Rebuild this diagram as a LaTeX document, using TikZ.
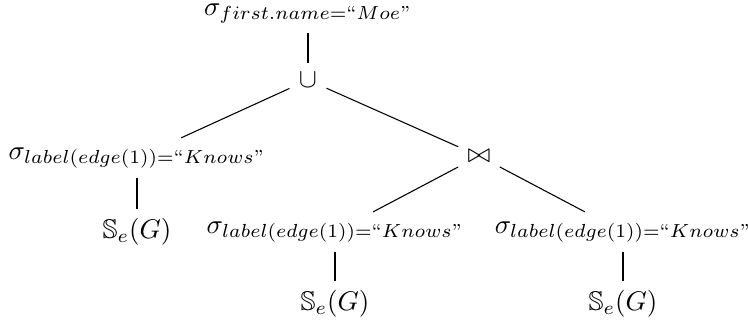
\documentclass[tikz,border=0pt]{standalone}
\usepackage{amsmath,amssymb}
\begin{document}
\begin{tikzpicture}[x=0.37pt,y=-0.37pt,
  op/.style={inner sep=3.33pt},
  link/.style={draw=black, line width=0.4pt}]
\useasboundingbox (0,0) rectangle (748,329);
\node[op] (top) at (308,14) {$\sigma_{first.name=\text{``}Moe\text{''}}$};
\node[op] (cup) at (308,80) {$\cup$};
\node[op] (sl) at (137,158) {$\sigma_{label(edge(1))=\text{``}Knows\text{''}}$};
\node[op] (join) at (479,156) {$\bowtie$};
\node[op] (gl) at (137,232) {$\mathbb{S}_e(G)$};
\node[op] (sm) at (335,232) {$\sigma_{label(edge(1))=\text{``}Knows\text{''}}$};
\node[op] (sr) at (623,232) {$\sigma_{label(edge(1))=\text{``}Knows\text{''}}$};
\node[op] (gm) at (335,304) {$\mathbb{S}_e(G)$};
\node[op] (gr) at (623,304) {$\mathbb{S}_e(G)$};
\draw[link] (top) -- (cup);
\draw[link] (cup) -- (sl);
\draw[link] (cup) -- (join);
\draw[link] (sl) -- (gl);
\draw[link] (join) -- (sm);
\draw[link] (join) -- (sr);
\draw[link] (sm) -- (gm);
\draw[link] (sr) -- (gr);
\end{tikzpicture}
\end{document}
